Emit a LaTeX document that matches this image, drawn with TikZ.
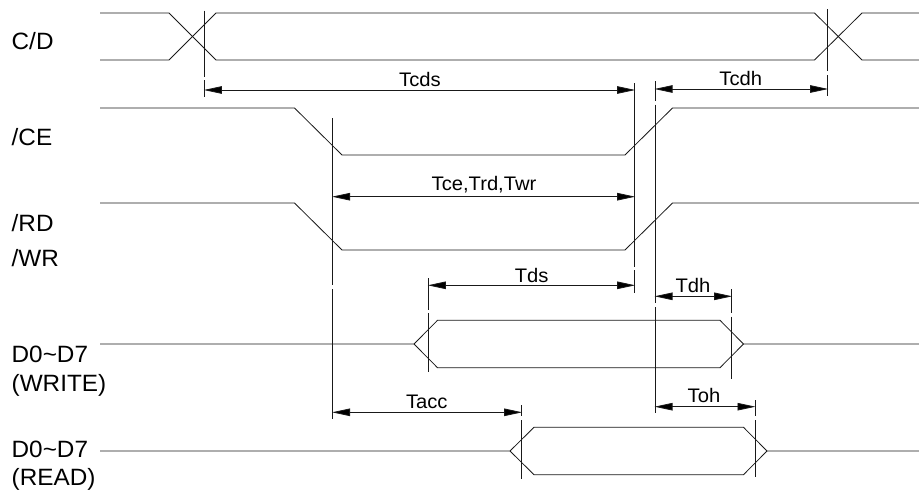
\documentclass[tikz,border=0pt]{standalone}
\usepackage{fontspec}
\setmainfont[FakeStretch=1.03]{Liberation Sans}
\usetikzlibrary{arrows.meta}
\tikzset{
  wave/.style={line width=0.8pt,black!90,line join=miter},
  guide/.style={line width=0.9pt,black!90},
  dim/.style={line width=0.8pt,black!90,{Triangle[length=18pt,width=7.5pt,fill=black]}-{Triangle[length=18pt,width=7.5pt,fill=black]},shorten <=-0.5pt,shorten >=-0.5pt},
  siglabel/.style={inner sep=0pt,anchor=base west,font=\fontsize{23.6pt}{23.6pt}\selectfont,text=black},
  timelabel/.style={inner sep=0pt,anchor=base,font=\fontsize{19.6pt}{19.6pt}\selectfont,text=black}
}
\begin{document}
\begin{tikzpicture}[x=1pt,y=-1pt]
\useasboundingbox (0,0) rectangle (919,493);
% signal labels
\node[siglabel] (lcd) at (11.5,49.3) {C/D};
\node[siglabel] (lce) at (11.5,145) {/CE};
\node[siglabel] (lrd) at (11.5,231.7) {/RD};
\node[siglabel] (lwr) at (11.5,266.7) {/WR};
\node[siglabel] (ldw) at (11.5,362.7) {D0\char"007E D7};
\node[siglabel] (lw) at (11.5,391.7) {(WRITE)};
\node[siglabel] (ldr) at (11.5,457.3) {D0\char"007E D7};
\node[siglabel] (lr) at (11.5,485) {(READ)};
% waveforms
\draw[wave] (100,13) -- (169,13) -- (216,60) -- (814.5,60) -- (862,13) -- (919,13);
\draw[wave] (100,60) -- (169,60) -- (216,13) -- (814.5,13) -- (862,60) -- (919,60);
\draw[wave] (100,108) -- (294.5,108) -- (342,155) -- (625,155) -- (672.5,108) -- (919,108);
\draw[wave] (100,203) -- (294.5,203) -- (342,250) -- (625,250) -- (672.5,203) -- (919,203);
\draw[wave] (100,344) -- (414,344) -- (437.5,320.3) -- (720,320.3) -- (743.5,344) -- (919,344);
\draw[wave] (414,344) -- (437.5,367.7) -- (720,367.7) -- (743.5,344);
\draw[wave] (100,451) -- (510,451) -- (534,427.3) -- (743.5,427.3) -- (767,451) -- (919,451);
\draw[wave] (510,451) -- (534,474.7) -- (743.5,474.7) -- (767,451);
% timing guide lines
\draw[guide] (204.3,10.7) -- (204.3,77.3) (204.3,80) -- (204.3,97);
\draw[guide] (827.7,9.3) -- (827.7,71.3) (827.7,75) -- (827.7,96);
\draw[guide] (332.5,118) -- (332.5,285) (332.5,289) -- (332.5,419);
\draw[guide] (634.7,83) -- (634.7,266.7) (634.7,270) -- (634.7,292.7);
\draw[guide] (655,81) -- (655,101) (655,104.7) -- (655,303) (655,307) -- (655,413);
\draw[guide] (428.3,278) -- (428.3,310) (428.3,313) -- (428.3,371.7);
\draw[guide] (731.7,289) -- (731.7,312.7) (731.7,316.7) -- (731.7,379);
\draw[guide] (755,400) -- (755,416) (755,420) -- (755,476.7);
\draw[guide] (521.7,405) -- (521.7,416) (521.7,420) -- (521.7,479);
% dimension end points
\coordinate (cdsA) at (204.3,90);   \coordinate (cdsB) at (634.7,90);
\coordinate (cdhA) at (655,89);     \coordinate (cdhB) at (827.7,89);
\coordinate (ceA) at (332.5,196.7); \coordinate (ceB) at (634.7,196.7);
\coordinate (dsA) at (428.3,285.3); \coordinate (dsB) at (634.7,285.3);
\coordinate (dhA) at (655,296.3);   \coordinate (dhB) at (731.7,296.3);
\coordinate (ohA) at (655,406.7);   \coordinate (ohB) at (755,406.7);
\coordinate (accA) at (332.5,412.3);\coordinate (accB) at (521.7,412.3);
\draw[dim] (cdsA) -- (cdsB);
\draw[dim] (cdhA) -- (cdhB);
\draw[dim] (ceA) -- (ceB);
\draw[dim] (dsA) -- (dsB);
\draw[dim] (dhA) -- (dhB);
\draw[dim] (ohA) -- (ohB);
\draw[dim] (accA) -- (accB);
% timing labels
\node[timelabel] (tcds) at (420,86) {Tcds};
\node[timelabel] (tcdh) at (740.8,85) {Tcdh};
\node[timelabel] (tce) at (484,190) {Tce,Trd,Twr};
\node[timelabel] (tds) at (531.7,282.3) {Tds};
\node[timelabel] (tdh) at (693,292) {Tdh};
\node[timelabel] (toh) at (704,402.7) {Toh};
\node[timelabel] (tacc) at (426.8,408) {Tacc};
\end{tikzpicture}
\end{document}
